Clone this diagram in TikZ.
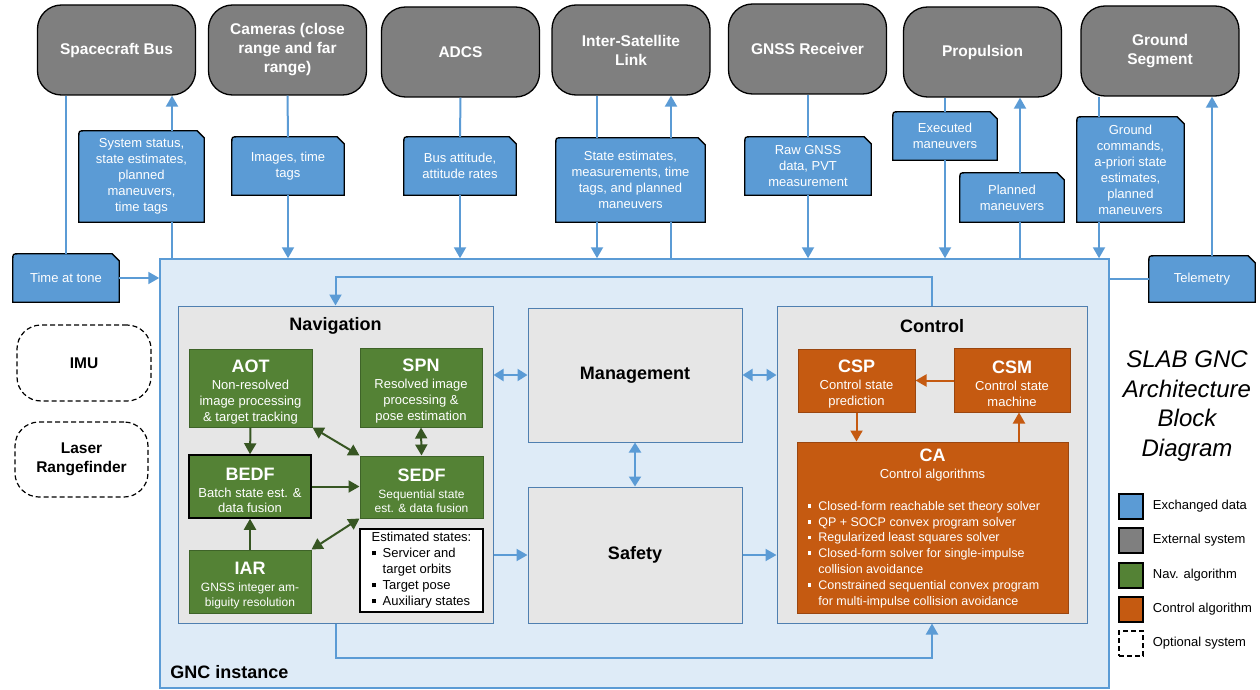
\documentclass[tikz,border=0pt]{standalone}
\usepackage{fontspec}
\setmainfont{Liberation Sans}
\usetikzlibrary{arrows.meta,positioning,backgrounds}

\definecolor{datablue}{HTML}{5B9BD5}
\definecolor{extgray}{HTML}{7F7F7F}
\definecolor{navgreen}{HTML}{548235}
\definecolor{navdark}{HTML}{3E6328}
\definecolor{navarrow}{HTML}{375623}
\definecolor{ctrlorange}{HTML}{C55A11}
\definecolor{ctrldark}{HTML}{9A4610}
\definecolor{gncfill}{HTML}{DEEBF7}
\definecolor{modfill}{HTML}{E6E6E6}
\definecolor{modline}{HTML}{4F7FB0}

\newcommand{\fsz}[2]{\fontsize{#1}{#2}\selectfont}
\newcommand{\algtitle}[1]{{\bfseries\fsz{18}{20}\rule{0pt}{20pt}#1}}
\newcommand{\sqitem}{\makebox[0.85em][l]{\rule[0.2em]{0.3em}{0.3em}}}
\newcommand{\snipbox}[1]{%
	\begin{pgfonlayer}{background}
		\draw[snip] (#1.south west) -- (#1.south east) -- ([yshift=-7pt]#1.north east) -- ([xshift=-7pt]#1.north east) -- ([xshift=6pt]#1.north west) .. controls (#1.north west) .. ([yshift=-6pt]#1.north west) -- cycle;
	\end{pgfonlayer}}

\tikzset{
	ext/.style={rectangle, rounded corners=24pt, draw=black, line width=1.3pt, fill=extgray, text=white, font=\bfseries\fsz{15.5}{19}, align=center, minimum width=158pt, minimum height=90pt},
	opt/.style={rectangle, rounded corners=24pt, draw=black, line width=1.2pt, dash pattern=on 5pt off 3pt, font=\bfseries\fsz{15.5}{19}, align=center},
	datanote/.style={rectangle, inner sep=1pt, text=white, font=\fsz{13}{16}, align=center},
	snip/.style={draw=black, line width=1.3pt, fill=datablue},
	module/.style={rectangle, draw=modline, line width=1pt, fill=modfill, inner sep=0pt},
	modtitle/.style={font=\bfseries\fsz{18}{20}, inner sep=1pt},
	navalgo/.style={rectangle, draw=navdark, line width=1pt, fill=navgreen, text=white, font=\fsz{13}{16}, align=center, inner sep=1pt},
	ctrlalgo/.style={rectangle, draw=ctrldark, line width=1pt, fill=ctrlorange, text=white, font=\fsz{13}{16}, align=center, inner sep=1pt},
	link/.style={draw=datablue, line width=2pt},
	flow/.style={link, -{Triangle[length=11pt,width=12pt]}},
	biflow/.style={link, {Triangle[length=10pt,width=12pt]}-{Triangle[length=10pt,width=12pt]}},
	navflow/.style={draw=navarrow, line width=2pt, -{Triangle[length=11pt,width=12pt]}},
	navbi/.style={draw=navarrow, line width=2pt, {Triangle[length=11pt,width=12pt]}-{Triangle[length=11pt,width=12pt]}},
	ctrlflow/.style={draw=ctrlorange, line width=2pt, -{Triangle[length=11pt,width=12pt]}},
	legbox/.style={rectangle, draw=black, line width=1.5pt, minimum width=24pt, minimum height=25pt, inner sep=0pt},
	legtext/.style={font=\fsz{13}{15}, inner sep=1pt},
}

\begin{document}
\begin{tikzpicture}[x=1pt, y=-1pt]
	\useasboundingbox (0,0) rectangle (1260,690);
	
	%%%%% EXTERNAL SYSTEMS %%%%%
	\node[ext] (bus) at (116.5,50) {Spacecraft Bus};
	\node[ext] (cam) at (287.5,50) {Cameras (close\\range and far\\range)};
	\node[ext] (adcs) at (460.5,52) {ADCS};
	\node[ext] (isl) at (631,50) {Inter-Satellite\\Link};
	\node[ext] (gnss) at (807.5,49) {GNSS Receiver};
	\node[ext] (prop) at (982.5,52) {Propulsion};
	\node[ext] (gnd) at (1160,51) {Ground\\Segment};
	
	\node[opt, minimum width=134pt, minimum height=76pt] (imu) at (84,363) {IMU};
	\node[opt, minimum width=133pt, minimum height=75pt] (lrf) at (81.5,459.5) {Laser\\Rangefinder};
	
	%%%%% EXCHANGED DATA %%%%%
	\node[datanote, minimum width=106pt, minimum height=48pt] (tat) at (66,278) {Time at tone};
	\snipbox{tat}
	\node[datanote, minimum width=125pt, minimum height=91pt] (sysst) at (141.5,176.5) {System status,\\state estimates,\\planned\\maneuvers,\\time tags};
	\snipbox{sysst}
	\node[datanote, minimum width=112pt, minimum height=58pt] (imgs) at (288,166) {Images, time\\tags};
	\snipbox{imgs}
	\node[datanote, minimum width=112pt, minimum height=58pt] (batt) at (460,166) {Bus attitude,\\attitude rates};
	\snipbox{batt}
	\node[datanote, minimum width=149pt, minimum height=84pt] (stest) at (630.5,180) {State estimates,\\measurements, time\\tags, and planned\\maneuvers};
	\snipbox{stest}
	\node[datanote, minimum width=126pt, minimum height=58pt] (raw) at (808,166) {Raw GNSS\\data, PVT\\measurement};
	\snipbox{raw}
	\node[datanote, minimum width=104pt, minimum height=48pt] (exman) at (945,136) {Executed\\maneuvers};
	\snipbox{exman}
	\node[datanote, minimum width=104pt, minimum height=49pt] (plman) at (1012,197.5) {Planned\\maneuvers};
	\snipbox{plman}
	\node[datanote, minimum width=107pt, minimum height=105pt] (gcmd) at (1130.5,169.5) {Ground\\commands,\\a-priori state\\estimates,\\planned\\maneuvers};
	\snipbox{gcmd}
	\node[datanote, minimum width=106pt, minimum height=46pt] (tel) at (1202,279) {Telemetry};
	\snipbox{tel}
	
	%%%%% GNC INSTANCE %%%%%
	\node[rectangle, draw=datablue, line width=1.5pt, fill=gncfill, minimum width=949pt, minimum height=429pt] (gnc) at (634.5,473.5) {};
	\node[modtitle, anchor=west] (gnclbl) at ([xshift=10pt,yshift=17pt]gnc.south west) {GNC instance};
	
	\node[module, minimum width=315pt, minimum height=317pt] (nav) at (335.5,464.5) {};
	\node[modtitle] (navt) at ([yshift=-20pt]nav.north) {Navigation};
	\node[module, minimum width=214pt, minimum height=134pt, font=\bfseries\fsz{18}{20}] (mgmt) at (635,375) {Management};
	\node[module, minimum width=214pt, minimum height=136pt, font=\bfseries\fsz{18}{20}] (safe) at (635,555) {Safety};
	\node[module, minimum width=310pt, minimum height=317pt] (ctrl) at (932,464.5) {};
	\node[modtitle] (ctrlt) at ([yshift=-21pt]ctrl.north) {Control};
	
	% navigation algorithms
	\node[navalgo, minimum width=123pt, minimum height=78pt] (aot) at (250.5,388) {\algtitle{AOT}\\[1pt]Non-resolved\\image processing\\\& target tracking};
	\node[navalgo, minimum width=122pt, minimum height=79pt] (spn) at (421,387.5) {\algtitle{SPN}\\[1pt]Resolved image\\processing \&\\pose estimation};
	\node[navalgo, draw=black, line width=1.5pt, minimum width=122pt, minimum height=63pt, font=\fsz{13}{15}] (bedf) at (250,486.5) {\algtitle{BEDF}\\[2pt]Batch state est. \&\\data fusion};
	\node[navalgo, minimum width=123pt, minimum height=62pt, font=\fsz{12}{14}] (sedf) at (421.5,487) {\algtitle{SEDF}\\[3pt]Sequential state\\est. \& data fusion};
	\node[navalgo, minimum width=122pt, minimum height=63pt, font=\fsz{12}{14.5}] (iar) at (250,581.5) {\algtitle{IAR}\\[3pt]GNSS integer am-\\biguity resolution};
	\node[rectangle, draw=black, line width=1.3pt, fill=white, minimum width=123pt, minimum height=83pt, font=\fsz{13}{16}, align=left, inner sep=1pt] (est) at (421.5,570.5) {Estimated states:\\\sqitem Servicer and\\\hspace*{0.85em}target orbits\\\sqitem Target pose\\\sqitem Auxiliary states};
	
	% control algorithms
	\node[ctrlalgo, minimum width=117pt, minimum height=63pt] (csp) at (856.5,380.5) {\algtitle{CSP}\\[1pt]Control state\\prediction};
	\node[ctrlalgo, minimum width=116pt, minimum height=64pt] (csm) at (1012,380) {\algtitle{CSM}\\[1pt]Control state\\machine};
	\node[ctrlalgo, minimum width=271pt, minimum height=171pt] (ca) at (932.5,527.5) {};
	\node[text=white, font=\fsz{13}{16}, align=center, inner sep=1pt] (catitle) at ([yshift=-24pt]ca.north) {{\bfseries\fsz{18}{20}CA}\\[1pt]Control algorithms};
	\node[text=white, font=\fsz{12.5}{15.8}, align=left, anchor=west, inner sep=1pt] (calist) at ([xshift=10pt,yshift=-27pt]ca.west) {\sqitem Closed-form reachable set theory solver\\\sqitem QP + SOCP convex program solver\\\sqitem Regularized least squares solver\\\sqitem Closed-form solver for single-impulse\\\hspace*{0.85em}collision avoidance\\\sqitem Constrained sequential convex program\\\hspace*{0.85em}for multi-impulse collision avoidance};
	
	%%%%% CONNECTORS %%%%%
	\draw[link] (bus.south -| tat.north) -- (tat.north);
	\draw[flow] (tat.east) -- (tat.east -| gnc.west);
	\draw[link] ([xshift=30.5pt]sysst.south) -- ([xshift=30.5pt]sysst.south |- gnc.north);
	\draw[flow] ([xshift=30.5pt]sysst.north) -- ([xshift=30.5pt]sysst.north |- bus.south);
	
	\draw[link] (cam.south) -- (imgs.north);
	\draw[flow] (imgs.south) -- (imgs.south |- gnc.north);
	
	\draw[link] (adcs.south) -- (batt.north);
	\draw[flow] (batt.south) -- (batt.south |- gnc.north);
	
	\draw[link] ([xshift=-33.5pt]stest.north |- isl.south) -- ([xshift=-33.5pt]stest.north);
	\draw[flow] ([xshift=-33.5pt]stest.south) -- ([xshift=-33.5pt]stest.south |- gnc.north);
	\draw[link] ([xshift=40.5pt]stest.south |- gnc.north) -- ([xshift=40.5pt]stest.south);
	\draw[flow] ([xshift=40.5pt]stest.north) -- ([xshift=40.5pt]stest.north |- isl.south);
	
	\draw[link] (gnss.south -| raw.north) -- (raw.north);
	\draw[flow] (raw.south) -- (raw.south |- gnc.north);
	
	\draw[link] (prop.south -| exman.north) -- (exman.north);
	\draw[flow] (exman.south) -- (exman.south |- gnc.north);
	\draw[link] ([xshift=8pt]plman.south |- gnc.north) -- ([xshift=8pt]plman.south);
	\draw[flow] ([xshift=8pt]plman.north) -- ([xshift=8pt]plman.north |- prop.south);
	
	\draw[link] ([xshift=-31.5pt]gcmd.north |- gnd.south) -- ([xshift=-31.5pt]gcmd.north);
	\draw[flow] ([xshift=-31.5pt]gcmd.south) -- ([xshift=-31.5pt]gcmd.south |- gnc.north);
	\draw[link] (gnc.east |- tel.west) -- (tel.west);
	\draw[flow] ([xshift=10pt]tel.north) -- ([xshift=10pt]tel.north |- gnd.south);
	
	% inside the GNC instance
	\draw[flow] (ctrl.north) -- ++(0,-29) -| (nav.north);
	\draw[flow] (nav.south) -- ++(0,34) -| (ctrl.south);
	\draw[biflow] (nav.east |- mgmt.west) -- (mgmt.west);
	\draw[biflow] (mgmt.east) -- (mgmt.east -| ctrl.west);
	\draw[biflow] (mgmt.south) -- (safe.north);
	\draw[flow] (nav.east |- safe.west) -- (safe.west);
	\draw[flow] (safe.east) -- (safe.east -| ctrl.west);
	
	\draw[navflow] (aot.south) -- (bedf.north);
	\draw[navbi] (aot.south east) -- (sedf.north west);
	\draw[navbi] (spn.south) -- (sedf.north);
	\draw[navflow] (bedf.east) -- (bedf.east -| sedf.west);
	\draw[navflow] (iar.north) -- (bedf.south);
	\draw[navbi] (iar.north east) -- (sedf.south west);
	
	\draw[ctrlflow] (csm.west |- csp.east) -- (csp.east);
	\draw[ctrlflow] (csp.south) -- (csp.south |- ca.north);
	\draw[ctrlflow] ([xshift=7pt]csm.south |- ca.north) -- ([xshift=7pt]csm.south);
	
	%%%%% TITLE AND LEGEND %%%%%
	\node[font=\itshape\fsz{24}{29.5}, align=center] (title) at (1187,406) {SLAB GNC\\Architecture\\Block\\Diagram};
	
	\node[legbox, fill=datablue] (legd) at (1131,506.5) {};
	\node[legbox, fill=extgray] (lege) at (1131,540.5) {};
	\node[legbox, fill=navgreen] (legn) at (1131,575.5) {};
	\node[legbox, fill=ctrlorange] (legc) at (1131,609.5) {};
	\node[legbox, line width=1.2pt, dash pattern=on 5pt off 3pt] (lego) at (1131,643.5) {};
	\node[legtext, right=8pt of legd] (legdt) {Exchanged data};
	\node[legtext, right=8pt of lege] (leget) {External system};
	\node[legtext, right=8pt of legn] (legnt) {Nav. algorithm};
	\node[legtext, right=8pt of legc] (legct) {Control algorithm};
	\node[legtext, right=8pt of lego] (legot) {Optional system};
\end{tikzpicture}
\end{document}
